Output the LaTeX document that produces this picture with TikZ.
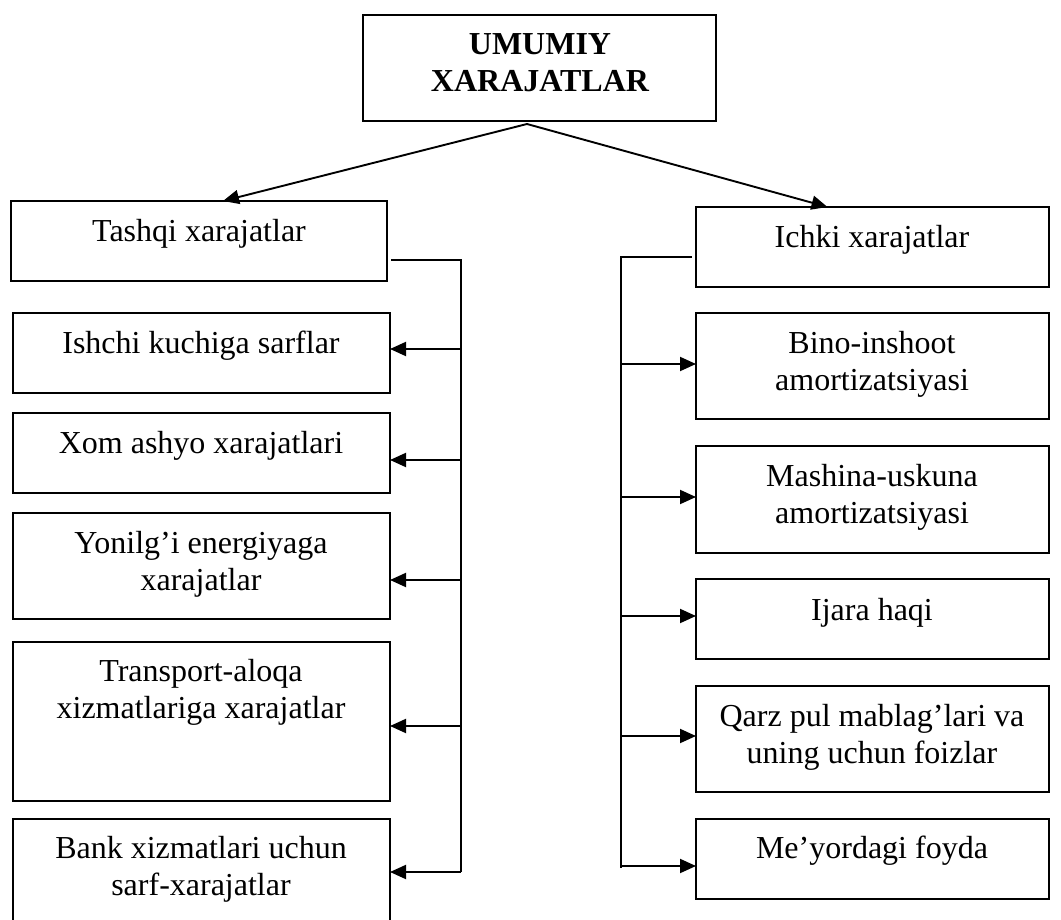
\documentclass[tikz,border=0pt]{standalone}
\usepackage{fontspec}
\setmainfont{Liberation Serif}
\usetikzlibrary{arrows.meta}
\newcommand\mkbox[5]{\node[box, minimum width={#4-#2}, minimum height={#5-#3}] (#1) at ({(#2+#4)/2},{(#3+#5)/2}) {};}
\begin{document}
\begin{tikzpicture}[x=1pt,y=-1pt,
  box/.style={draw, line width=2pt, inner sep=0pt, outer sep=0pt},
  lbl/.style={anchor=base, inner sep=0pt, font=\fontsize{32}{37}\selectfont},
  conn/.style={line width=1.9pt},
  arr/.style={conn,-{Triangle[length=16pt,width=14pt]}}]
\useasboundingbox (0,0) rectangle (1061,920);
\clip (0,0) rectangle (1061,920);
% boxes
\mkbox{top}{363}{15}{716}{121}
\mkbox{tashqi}{11}{201}{387}{281}
\mkbox{ichki}{696}{207}{1049}{287}
\mkbox{ishchi}{13}{313}{390}{393}
\mkbox{xom}{13}{413}{390}{493}
\mkbox{yonilgi}{13}{513}{390}{619}
\mkbox{transport}{13}{642}{390}{801}
\mkbox{bank}{13}{819}{390}{940}
\mkbox{bino}{696}{313}{1049}{419}
\mkbox{mashina}{696}{446}{1049}{553}
\mkbox{ijara}{696}{579}{1049}{659}
\mkbox{qarz}{696}{686}{1049}{792}
\mkbox{meyor}{696}{819}{1049}{899}
% labels
\node[lbl, font=\fontsize{32}{37}\selectfont\bfseries] (ttop) at (540,55) {\begin{tabular}[t]{@{}c@{}}UMUMIY\\XARAJATLAR\end{tabular}};
\node[lbl] (ttashqi) at (199,242) {Tashqi xarajatlar};
\node[lbl] (tichki) at (872,248) {Ichki xarajatlar};
\node[lbl] (tishchi) at (201,353) {Ishchi kuchiga sarflar};
\node[lbl] (txom) at (201,453) {Xom ashyo xarajatlari};
\node[lbl] (tyonilgi) at (201,553) {\begin{tabular}[t]{@{}c@{}}Yonilg’i energiyaga\\xarajatlar\end{tabular}};
\node[lbl] (ttransport) at (201,681) {\begin{tabular}[t]{@{}c@{}}Transport-aloqa\\xizmatlariga xarajatlar\end{tabular}};
\node[lbl] (tbank) at (201,858) {\begin{tabular}[t]{@{}c@{}}Bank xizmatlari uchun\\sarf-xarajatlar\end{tabular}};
\node[lbl] (tbino) at (872,353) {\begin{tabular}[t]{@{}c@{}}Bino-inshoot\\amortizatsiyasi\end{tabular}};
\node[lbl] (tmashina) at (872,486) {\begin{tabular}[t]{@{}c@{}}Mashina-uskuna\\amortizatsiyasi\end{tabular}};
\node[lbl] (tijara) at (872,620) {Ijara haqi};
\node[lbl] (tqarz) at (872,726) {\begin{tabular}[t]{@{}c@{}}Qarz pul mablag’lari va\\uning uchun foizlar\end{tabular}};
\node[lbl] (tmeyor) at (872,858) {Me’yordagi foyda};
% top arrows
\coordinate (apex) at (527,124);
\draw[arr] (apex) -- ([xshift=24pt]tashqi.north);
\draw[arr] (apex) -- ([xshift=-45pt]ichki.north);
% left bus
\coordinate (lb0) at (461,260);
\coordinate (lb5) at (461,872);
\draw[conn] ([xshift=4pt]tashqi.east |- lb0) -- (lb0) -- (lb5);
\coordinate (l1) at (461,349);
\coordinate (l2) at (461,460);
\coordinate (l3) at (461,580);
\coordinate (l4) at (461,726);
\draw[arr] (l1) -- (l1 -| ishchi.east);
\draw[arr] (l2) -- (l2 -| xom.east);
\draw[arr] (l3) -- (l3 -| yonilgi.east);
\draw[arr] (l4) -- (l4 -| transport.east);
\draw[arr] (lb5) -- (lb5 -| bank.east);
% right bus
\coordinate (rb0) at (621,257);
\coordinate (rb5) at (621,868);
\draw[conn] ([xshift=-4pt]ichki.west |- rb0) -- (rb0) -- (rb5);
\coordinate (r1) at (621,364);
\coordinate (r2) at (621,497);
\coordinate (r3) at (621,616);
\coordinate (r4) at (621,736);
\coordinate (r5) at (621,866);
\draw[arr] (r1) -- (r1 -| bino.west);
\draw[arr] (r2) -- (r2 -| mashina.west);
\draw[arr] (r3) -- (r3 -| ijara.west);
\draw[arr] (r4) -- (r4 -| qarz.west);
\draw[arr] (r5) -- (r5 -| meyor.west);
\end{tikzpicture}
\end{document}
